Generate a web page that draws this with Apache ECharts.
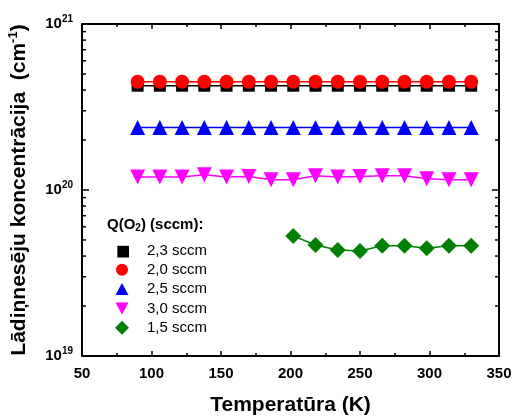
<!DOCTYPE html>
<html><head><meta charset="utf-8">
<script src="https://cdn.jsdelivr.net/npm/echarts@6/dist/echarts.min.js"></script>
<style>html,body{margin:0;padding:0;background:#fff}#c{width:516px;height:416px}</style>
</head><body><div id="c"></div>
<script>
// ---- data ----
const temps = [90,106,122,138,154,170,186,202,218,234,250,266,282,298,314,330];
const tempsGreen = [202,218,234,250,266,282,298,314,330];
const black23 = [4.25e20,4.25e20,4.25e20,4.25e20,4.25e20,4.25e20,4.25e20,4.25e20,4.25e20,4.25e20,4.25e20,4.25e20,4.25e20,4.25e20,4.25e20,4.25e20];
const red20 = [4.49e20,4.49e20,4.49e20,4.49e20,4.49e20,4.49e20,4.49e20,4.49e20,4.49e20,4.49e20,4.49e20,4.49e20,4.49e20,4.49e20,4.49e20,4.49e20];
const blue25 = [2.38e20,2.38e20,2.38e20,2.38e20,2.38e20,2.38e20,2.38e20,2.38e20,2.38e20,2.38e20,2.38e20,2.38e20,2.38e20,2.38e20,2.38e20,2.38e20];
const magenta30 = [1.197e20,1.197e20,1.197e20,1.235e20,1.197e20,1.206e20,1.153e20,1.153e20,1.218e20,1.197e20,1.206e20,1.218e20,1.218e20,1.169e20,1.153e20,1.153e20];
const green15 = [5.28e19,4.66e19,4.35e19,4.29e19,4.62e19,4.62e19,4.46e19,4.62e19,4.62e19];
const seriesNames = ['2,3 sccm','2,0 sccm','2,5 sccm','3,0 sccm','1,5 sccm'];
const xMin = 50, xMax = 350, xStep = 50;
const yMin = 1e19, yMax = 1e21;
const xTitle = 'Temperatūra (K)';
const yTitle = 'Lādiņnesēju koncentrācija  (cm';
const legendTitle = ['Q(O', '2', ') (sccm):'];

// minor ticks of the log axis (2..9 x 10^n)
const yMinor = [];
for (let e = 19; e < 21; e++) for (let k = 2; k <= 9; k++) yMinor.push(k * Math.pow(10, e));

const FONT = 'Liberation Sans';
const zip = (xs, ys) => xs.map((x, i) => [x, ys[i]]);

const chart = echarts.init(document.getElementById('c'), null, {renderer: 'canvas'});

const axisLine = {show: true, lineStyle: {color: '#000', width: 2}};
const xAxisBase = {
  type: 'value', min: xMin, max: xMax, interval: xStep,
  axisLine: axisLine, splitLine: {show: false},
  axisTick: {inside: true, length: 5, lineStyle: {width: 1.5, color: '#000'}},
  minorTick: {show: true, splitNumber: 2, length: 3, lineStyle: {width: 1.5, color: '#000'}},
  minorSplitLine: {show: false}
};
const yAxisBase = {
  type: 'log', logBase: 10, min: yMin, max: yMax,
  axisLine: axisLine, splitLine: {show: false},
  axisTick: {inside: true, length: 7, lineStyle: {width: 1.5, color: '#000'}}
};

const mk = (name, data, symbol, size, color, rotate) => ({
  name, type: 'line', data, symbol, symbolSize: size, symbolRotate: rotate || 0,
  xAxisIndex: 0, yAxisIndex: 0,
  lineStyle: {color, width: 1.5}, itemStyle: {color}, showSymbol: true,
  animation: false, z: 3
});

chart.setOption({
  animation: false,
  grid: {left: 82, right: 17, top: 24, bottom: 60, containLabel: false, outerBoundsMode: 'none'},
  xAxis: [
    Object.assign({}, xAxisBase, {
      position: 'bottom',
      axisLabel: {color: '#000', fontFamily: FONT, fontWeight: 'bold', fontSize: 15, margin: 10},
      name: xTitle, nameLocation: 'middle', nameGap: 39,
      nameTextStyle: {color: '#000', fontFamily: FONT, fontWeight: 'bold', fontSize: 21}
    }),
    Object.assign({}, xAxisBase, {position: 'top', axisLabel: {show: false}})
  ],
  yAxis: [
    Object.assign({}, yAxisBase, {
      position: 'left',
      axisLabel: {
        margin: 9,
        formatter: v => '{b|10}{s|' + Math.round(Math.log10(v)) + '}',
        rich: {
          b: {color: '#000', fontFamily: FONT, fontWeight: 'bold', fontSize: 15},
          s: {color: '#000', fontFamily: FONT, fontWeight: 'bold', fontSize: 10, padding: [0, 0, 10, 0]}
        }
      },
      name: '{t|' + yTitle + '}{s|-1}{t|)}', nameLocation: 'middle', nameGap: 50, nameRotate: 90,
      nameTextStyle: {
        rich: {
          t: {color: '#000', fontFamily: FONT, fontWeight: 'bold', fontSize: 21},
          s: {color: '#000', fontFamily: FONT, fontWeight: 'bold', fontSize: 13, padding: [0, 0, 12, 0]}
        }
      }
    }),
    Object.assign({}, yAxisBase, {position: 'right', axisLabel: {show: false}})
  ],
  legend: {
    orient: 'vertical', left: 110, top: 238,
    itemWidth: 14, itemHeight: 14, itemGap: 4.3,
    textStyle: {color: '#000', fontFamily: FONT, fontSize: 15, lineHeight: 14, padding: [0, 0, 0, 13]},
    selectedMode: false,
    data: [
      {name: seriesNames[0], icon: 'path://M0,0 M2,2 L12,2 L12,12 L2,12 Z'},
      {name: seriesNames[1], icon: 'path://M0,0 M1,7 A6,6 0 1 1 13,7 A6,6 0 1 1 1,7 Z M14,14'},
      {name: seriesNames[2], icon: 'path://M0,0 M0.5,13 L7,1 L13.5,13 Z M14,14'},
      {name: seriesNames[3], icon: 'path://M0,0 M0.5,1 L13.5,1 L7,13 Z M14,14'},
      {name: seriesNames[4], icon: 'diamond'}
    ]
  },
  graphic: [{
    type: 'text', left: 107, top: 217,
    style: {
      text: '{a|' + legendTitle[0] + '}{b|' + legendTitle[1] + '}{a|' + legendTitle[2] + '}',
      rich: {
        a: {fill: '#000', fontFamily: FONT, fontWeight: 'bold', fontSize: 15},
        b: {fill: '#000', fontFamily: FONT, fontWeight: 'bold', fontSize: 10, padding: [7, 0, 0, 0]}
      }
    }
  }],
  series: [
    mk(seriesNames[0], zip(temps, black23), 'rect', 12, '#000000'),
    mk(seriesNames[1], zip(temps, red20), 'circle', 14, '#ff0000'),
    mk(seriesNames[2], zip(temps, blue25), 'triangle', 15, '#0000ff'),
    mk(seriesNames[3], zip(temps, magenta30), 'triangle', 15, '#ff00ff', 180),
    mk(seriesNames[4], zip(tempsGreen, green15), 'diamond', 16, '#008000'),
    {
      type: 'custom', silent: true, xAxisIndex: 0, yAxisIndex: 0, clip: false, z: 10,
      data: yMinor.map(v => [xMin, v]),
      renderItem: (params, api) => {
        const v = api.value(1);
        const l = api.coord([xMin, v]);
        const r = api.coord([xMax, v]);
        return {type: 'group', children: [
          {type: 'line', shape: {x1: l[0], y1: l[1], x2: l[0] + 4, y2: l[1]}, style: {stroke: '#000', lineWidth: 1.5}},
          {type: 'line', shape: {x1: r[0] - 4, y1: r[1], x2: r[0], y2: r[1]}, style: {stroke: '#000', lineWidth: 1.5}}
        ]};
      }
    }
  ]
});
</script></body></html>
